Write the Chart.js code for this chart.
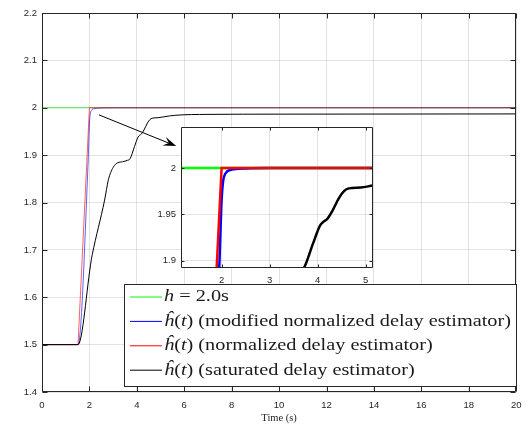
<!DOCTYPE html>
<html><head><meta charset="utf-8">
<script src="https://cdn.jsdelivr.net/npm/chart.js@4.4.0/dist/chart.umd.min.js"></script>
<style>
html,body{margin:0;padding:0;background:#fff}
#wrap{position:relative;width:529px;height:424px;overflow:hidden}
#main{position:absolute;left:0;top:0}
#inset{position:absolute;left:140px;top:116px}
</style></head><body>
<div id="wrap"><canvas id="main" width="529" height="424"></canvas><canvas id="inset" width="240" height="174"></canvas></div>
<script>
// true delay h = 2.0 s
const refX = [0, 20];
const refY = [2, 2];
// modified normalized delay estimator
const modX = [0, 1.52, 1.95, 2.0, 2.03, 2.08, 2.2, 2.5, 3.0, 20];
const modY = [1.5, 1.5, 1.892, 1.965, 1.985, 1.994, 1.998, 1.9995, 2.0, 2.0];
// normalized delay estimator
const normX = [0, 1.52, 2.0, 20];
const normY = [1.5, 1.5, 2.0, 2.0];
// saturated delay estimator
const satX = [0, 1.52, 2.08, 2.12, 2.64, 2.8, 3.0, 3.2, 3.4, 3.6, 3.71, 3.9, 4.05, 4.12, 4.2, 4.3, 4.45, 4.55, 4.65, 4.9, 5.15, 5.6, 7, 10, 20];
const satY = [1.5, 1.5, 1.679, 1.69, 1.805, 1.848, 1.874, 1.884, 1.886, 1.889, 1.892, 1.918, 1.938, 1.942, 1.945, 1.953, 1.968, 1.975, 1.978, 1.979, 1.981, 1.984, 1.986, 1.9865, 1.987];

const mainXRange = [0, 20];
const mainYRange = [1.4, 2.2];
const mainXTicks = [0, 2, 4, 6, 8, 10, 12, 14, 16, 18, 20];
const mainYTicks = [1.4, 1.5, 1.6, 1.7, 1.8, 1.9, 2, 2.1, 2.2];
const insetXRange = [1.154, 5.154];
const insetYRange = [1.8923, 2.0444];
const insetXTicks = [2, 3, 4, 5];
const insetYTicks = [1.9, 1.95, 2];
const arrowFrom = [2.4, 1.985];
const arrowTo = [5.66, 1.919];
const xTitle = 'Time (s)';

const colors = ['#00ff00', '#0000ff', '#ff0000', '#000000'];
// main plot lines are thin, so red over blue blends to purple there
const mainColors = ['rgba(0,230,0,0.75)', 'rgba(0,0,255,0.7)', 'rgba(255,0,0,0.7)', '#000000'];
const legendText = [
  [['h', 1], [' = 2.0s', 0]],
  [['ĥ', 1], ['(', 0], ['t', 1], [') (modified normalized delay estimator)', 0]],
  [['ĥ', 1], ['(', 0], ['t', 1], [') (normalized delay estimator)', 0]],
  [['ĥ', 1], ['(', 0], ['t', 1], [') (saturated delay estimator)', 0]]
];

const zip = (xs, ys) => xs.map((x, i) => ({x, y: ys[i]}));
const series = [[refX, refY], [modX, modY], [normX, normY], [satX, satY]];
const curve = ['default', 'monotone', 'default', 'monotone'];

function datasets(widths, cols) {
  return series.map((s, i) => ({
    data: zip(s[0], s[1]),
    borderColor: cols[i],
    borderWidth: widths[i],
    pointRadius: 0,
    tension: 0,
    cubicInterpolationMode: curve[i],
    order: 4 - i
  }));
}

function frame(tickLen, xt, yt) {
  return {
    id: 'frame',
    beforeDraw(chart) {
      const {ctx, chartArea: a} = chart;
      ctx.save(); ctx.fillStyle = '#fff';
      ctx.fillRect(a.left, a.top, a.right - a.left, a.bottom - a.top);
      ctx.restore();
    },
    afterDatasetsDraw(chart) {
      const {ctx, chartArea: a, scales: {x, y}} = chart;
      const L = Math.round(a.left) + 0.5, R = Math.round(a.right) - 0.5;
      const T = Math.round(a.top) + 0.5, B = Math.round(a.bottom) - 0.5;
      ctx.save();
      ctx.strokeStyle = '#262626'; ctx.lineWidth = 1;
      ctx.beginPath();
      xt.forEach(v => {
        const p = Math.round(x.getPixelForValue(v)) + 0.5;
        ctx.moveTo(p, B); ctx.lineTo(p, B - tickLen);
        ctx.moveTo(p, T); ctx.lineTo(p, T + tickLen);
      });
      yt.forEach(v => {
        const p = Math.round(y.getPixelForValue(v)) + 0.5;
        ctx.moveTo(L, p); ctx.lineTo(L + tickLen, p);
        ctx.moveTo(R, p); ctx.lineTo(R - tickLen, p);
      });
      ctx.moveTo(L, T); ctx.lineTo(R, T); ctx.lineTo(R, B); ctx.lineTo(L, B); ctx.closePath();
      ctx.stroke();
      ctx.restore();
    }
  };
}

const arrowPlugin = {
  id: 'arrow',
  afterDraw(chart) {
    const {ctx, scales: {x, y}} = chart;
    const x0 = x.getPixelForValue(arrowFrom[0]), y0 = y.getPixelForValue(arrowFrom[1]);
    const x1 = x.getPixelForValue(arrowTo[0]), y1 = y.getPixelForValue(arrowTo[1]);
    const ang = Math.atan2(y1 - y0, x1 - x0);
    const len = 11, w = 4.5;
    const c = Math.cos(ang), s = Math.sin(ang);
    const bx = x1 - len * c, by = y1 - len * s;
    ctx.save();
    ctx.strokeStyle = '#000'; ctx.fillStyle = '#000'; ctx.lineWidth = 1;
    ctx.beginPath(); ctx.moveTo(x0, y0); ctx.lineTo(bx + 3 * c, by + 3 * s); ctx.stroke();
    ctx.beginPath();
    ctx.moveTo(x1, y1);
    ctx.lineTo(bx - w * s - 2 * c, by + w * c - 2 * s);
    ctx.lineTo(bx + 3 * c, by + 3 * s);
    ctx.lineTo(bx + w * s - 2 * c, by - w * c - 2 * s);
    ctx.closePath(); ctx.fill();
    ctx.restore();
  }
};

const legendPlugin = {
  id: 'boxLegend',
  afterDraw(chart) {
    const ctx = chart.ctx;
    const l = 124.5, t = 284.5, r = 516.5, b = 386.5;
    const fam = '"Liberation Serif", "Times New Roman", serif';
    const size = 16.5;
    const rowWidth = segs => segs.reduce((w, [txt, it]) => {
      ctx.font = (it ? 'italic ' : '') + size + 'px ' + fam; return w + ctx.measureText(txt).width;
    }, 0);
    ctx.save();
    // computer-modern style text is wider than Times: stretch to the reference width
    const stretch = 347 / rowWidth(legendText[1]);
    ctx.fillStyle = '#fff'; ctx.fillRect(l, t, r - l, b - t);
    ctx.strokeStyle = '#262626'; ctx.lineWidth = 1; ctx.strokeRect(l, t, r - l, b - t);
    legendText.forEach((segs, i) => {
      const yy = t + 12.5 + i * 24.4;
      ctx.strokeStyle = colors[i]; ctx.beginPath(); ctx.moveTo(130, yy); ctx.lineTo(162, yy); ctx.stroke();
      ctx.save();
      ctx.translate(164, 0); ctx.scale(stretch, 1);
      let xx = 0;
      ctx.fillStyle = '#1a1a1a'; ctx.textBaseline = 'middle';
      segs.forEach(([txt, it]) => {
        ctx.font = (it ? 'italic ' : '') + size + 'px ' + fam;
        ctx.fillText(txt, xx, yy); xx += ctx.measureText(txt).width;
      });
      ctx.restore();
    });
    ctx.restore();
  }
};

const tickFont = {family: '"Liberation Sans", Arial, sans-serif', size: 9.5};
const gridColor = 'rgba(38,38,38,0.13)';

function scaleOpts(range, ticks, pad, fit, title) {
  return {
    type: 'linear', min: range[0], max: range[1],
    afterBuildTicks: s => { s.ticks = ticks.map(v => ({value: v})); },
    afterFit: fit,
    grid: {color: gridColor, drawTicks: false, lineWidth: 1},
    border: {display: false},
    ticks: {font: tickFont, color: '#262626', padding: pad, autoSkip: false, maxRotation: 0, callback: v => String(v)},
    title: title || {display: false}
  };
}

new Chart(document.getElementById('main'), {
  type: 'line',
  data: {datasets: datasets([0.9, 0.9, 0.9, 1], mainColors)},
  options: {
    responsive: false, animation: false, events: [],
    layout: {padding: {left: 0, top: 13, right: 10, bottom: 0}},
    plugins: {legend: {display: false}, tooltip: {enabled: false}},
    scales: {
      x: scaleOpts(mainXRange, mainXTicks, 7.5, s => { s.height = 32; },
        {display: true, text: xTitle, font: {family: '"Liberation Serif", serif', size: 10.5}, color: '#262626', padding: {top: 0, bottom: -1}}),
      y: scaleOpts(mainYRange, mainYTicks, 5, s => { s.width = 42; })
    }
  },
  plugins: [frame(5, mainXTicks, mainYTicks), arrowPlugin, legendPlugin]
});

new Chart(document.getElementById('inset'), {
  type: 'line',
  data: {datasets: datasets([2.5, 2.5, 2.5, 2.5], colors)},
  options: {
    responsive: false, animation: false, events: [],
    layout: {padding: {left: 0, top: 8, right: 7, bottom: 0}},
    plugins: {legend: {display: false}, tooltip: {enabled: false}},
    scales: {
      x: scaleOpts(insetXRange, insetXTicks, 6.5, s => { s.height = 22; }),
      y: scaleOpts(insetYRange, insetYTicks, 5, s => { s.width = 41; })
    }
  },
  plugins: [frame(3, insetXTicks, insetYTicks)]
});
</script>
</body></html>
